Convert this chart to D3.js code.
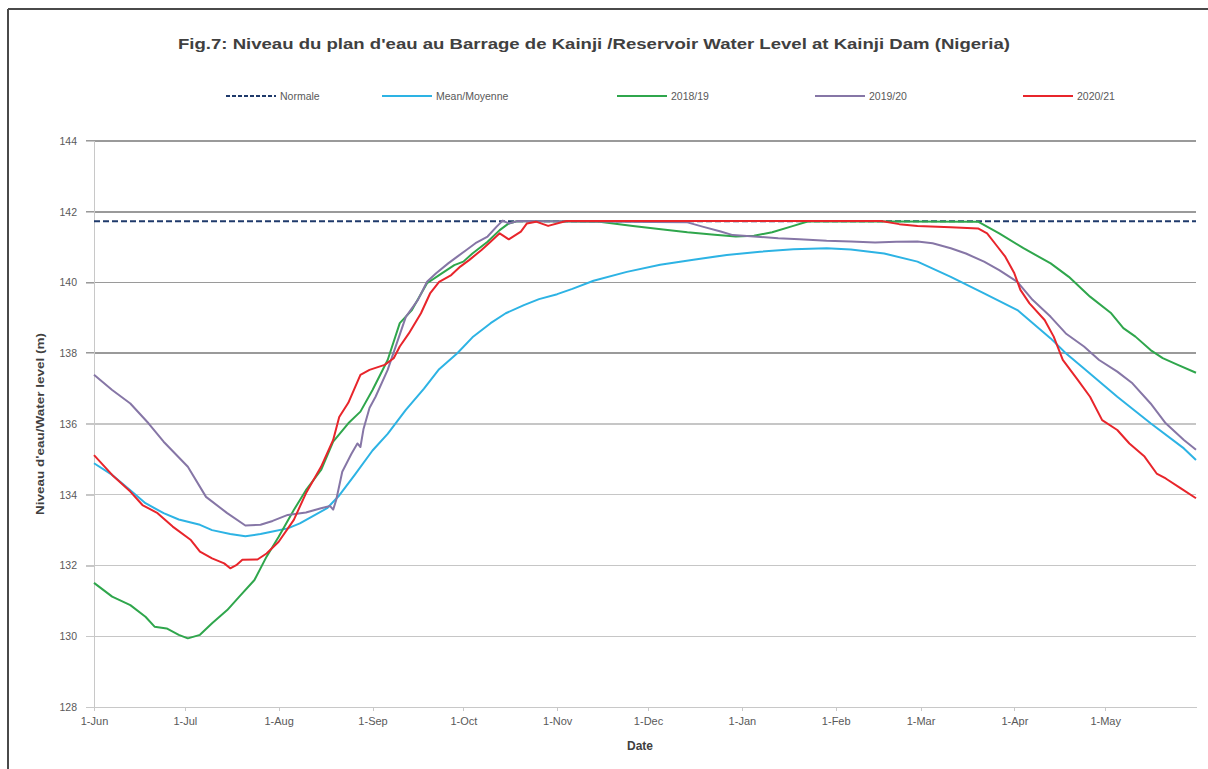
<!DOCTYPE html>
<html>
<head>
<meta charset="utf-8">
<title>Kainji reservoir level</title>
<style>

body {
    margin: 0;
    background: #fff;
}

text {
    font-family: "Liberation Sans", Arial, sans-serif;
    fill: #595959;
}

.title {
    font-size: 14.5px;
    font-weight: bold;
    fill: #404040;
}

.axislabel {
    font-size: 12px;
    font-weight: bold;
    fill: #404040;
}

.legend text, .yaxis text {
    font-size: 10.5px;
}

.xaxis text {
    font-size: 11px;
}

.xaxis path, .xaxis line, .yaxis line {
    stroke: #c8c8c8;
    shape-rendering: crispEdges;
}

.yaxis path {
    display: none;
}

.grid line {
    shape-rendering: crispEdges;
}

.series {
    fill: none;
    stroke-width: 2;
    stroke-linejoin: round;
}

</style>
</head>
<body>
<div id="chart"></div>
<script src="https://d3js.org/d3.v7.min.js"></script>
<script>
    var dimensions = { width: 1208, height: 769 };
    var margins = { top: 141, right: 12, bottom: 62, left: 94 };

    // season starts 1 June, values are [day since 1-Jun, level (m)]
    var seasonStart = "2020-06-01";
    var seasonEnd = "2021-05-31";
    var yTicks = [128, 130, 132, 134, 136, 138, 140, 142, 144];

    var normale = 141.73;

    var mean = [[0,134.89],[6,134.56],[12,134.13],[17,133.76],[23,133.48],[28,133.30],[35,133.15],[39,133.00],
        [45,132.89],[50,132.83],[55,132.89],[59,132.96],[64,133.05],[68,133.19],[72,133.38],[77,133.62],
        [81,133.98],[86,134.55],[92,135.25],[97,135.72],[103,136.40],[109,137.00],[114,137.55],[120,138.00],
        [125,138.45],[131,138.85],[136,139.13],[142,139.36],[147,139.53],[153,139.67],[158,139.82],[165,140.05],
        [176,140.30],[187,140.50],[198,140.64],[209,140.78],[220,140.87],[231,140.94],[242,140.97],[250,140.93],
        [261,140.82],[272,140.59],[283,140.16],[294,139.69],[305,139.22],[316,138.42],[321,138.00],[327,137.57],
        [338,136.77],[349,136.02],[360,135.31],[364,134.98]];

    var y2018 = [[0,131.51],[6,131.12],[12,130.88],[17,130.55],[20,130.27],[24,130.22],[28,130.04],[31,129.94],
        [35,130.04],[39,130.37],[44,130.74],[48,131.12],[53,131.59],[57,132.25],[61,132.81],[66,133.57],
        [70,134.13],[75,134.70],[79,135.50],[84,136.02],[88,136.35],[92,136.96],[97,137.81],[101,138.85],
        [105,139.22],[110,139.98],[114,140.21],[119,140.49],[122,140.59],[125,140.82],[130,141.15],[134,141.48],
        [137,141.67],[140,141.74],[167,141.72],[178,141.60],[188,141.50],[196,141.42],[205,141.35],[212,141.30],
        [218,141.32],[224,141.42],[231,141.60],[236,141.73],[292,141.72],[299,141.39],[307,140.97],[316,140.54],
        [322,140.16],[329,139.60],[336,139.13],[340,138.71],[344,138.47],[349,138.09],[353,137.86],[358,137.67],
        [364,137.45]];

    var y2019 = [[0,137.39],[6,136.96],[12,136.58],[18,136.02],[23,135.50],[31,134.79],[37,133.94],[44,133.48],
        [50,133.13],[55,133.15],[59,133.26],[64,133.43],[70,133.50],[75,133.62],[78,133.68],[79,133.58],
        [80,133.85],[82,134.65],[85,135.15],[87,135.45],[88,135.35],[89,135.85],[91,136.45],[93,136.77],
        [97,137.53],[100,138.28],[103,139.03],[107,139.51],[110,140.02],[113,140.26],[117,140.54],[120,140.73],
        [123,140.92],[126,141.11],[130,141.30],[133,141.58],[135,141.75],[137,141.67],[140,141.74],[196,141.70],
        [201,141.58],[207,141.44],[211,141.34],[218,141.30],[226,141.25],[233,141.22],[242,141.18],[250,141.16],
        [258,141.13],[265,141.15],[272,141.16],[277,141.11],[283,140.97],[288,140.82],[294,140.59],[299,140.35],
        [305,140.02],[310,139.51],[316,139.03],[321,138.56],[327,138.19],[332,137.81],[338,137.48],[343,137.15],
        [349,136.58],[354,136.02],[360,135.55],[364,135.27]];

    var y2020 = [[0,135.12],[6,134.56],[12,134.09],[16,133.71],[21,133.48],[26,133.10],[32,132.72],[35,132.39],
        [39,132.20],[43,132.06],[45,131.92],[47,132.01],[49,132.16],[54,132.17],[57,132.34],[61,132.67],
        [66,133.29],[70,134.04],[75,134.79],[79,135.55],[81,136.20],[84,136.60],[88,137.39],[91,137.53],
        [96,137.67],[99,137.86],[101,138.19],[104,138.56],[108,139.13],[111,139.69],[114,140.02],[118,140.21],
        [121,140.45],[124,140.64],[128,140.92],[131,141.15],[134,141.39],[137,141.22],[141,141.44],[143,141.67],
        [146,141.72],[150,141.60],[156,141.74],[260,141.74],[266,141.65],[272,141.60],[283,141.56],[292,141.53],
        [295,141.39],[298,141.06],[301,140.73],[304,140.26],[306,139.79],[309,139.41],[314,138.94],[317,138.47],
        [320,137.81],[325,137.24],[329,136.77],[333,136.11],[338,135.83],[342,135.45],[347,135.08],[351,134.60],
        [354,134.46],[359,134.18],[364,133.90]];

    var seriesNames = ["Mean/Moyenne", "2018/19", "2019/20", "2020/21"];
    var seriesData = [mean, y2018, y2019, y2020];
    var seriesColors = ["#2db3e4", "#2fa64c", "#8676a6", "#e8252b"];
    var normaleColor = "#1f3a6b";

    var legendX = [226, 382, 617, 815, 1023];

    var parseDay = d3.utcParse("%Y-%m-%d");
    var start = parseDay(seasonStart);

    var xscale = d3.scaleUtc()
        .domain([start, parseDay(seasonEnd)])
        .range([margins.left, dimensions.width - margins.right]);
    var yscale = d3.scaleLinear()
        .domain([128, 144])
        .range([dimensions.height - margins.bottom, margins.top]);

    var svg = d3.select("#chart")
        .append("svg")
        .attr("width", dimensions.width)
        .attr("height", dimensions.height);

    // frame (top + left edges only, as in the scan)
    svg.append("line")
        .attr("x1", 8).attr("y1", 9).attr("x2", dimensions.width).attr("y2", 9)
        .attr("stroke", "#4a4a4a").attr("stroke-width", 2);
    svg.append("line")
        .attr("x1", 8).attr("y1", 9).attr("x2", 8).attr("y2", dimensions.height)
        .attr("stroke", "#4a4a4a").attr("stroke-width", 2);

    svg.append("text")
        .attr("class", "title")
        .attr("x", 594)
        .attr("y", 49)
        .attr("text-anchor", "middle")
        .attr("textLength", 832)
        .attr("lengthAdjust", "spacingAndGlyphs")
        .text("Fig.7:  Niveau du plan d'eau au Barrage de Kainji /Reservoir Water Level at Kainji Dam (Nigeria)");

    // gridlines
    var grid = svg.append("g").attr("class", "grid");
    grid.selectAll("line")
        .data(yTicks.filter(function(v) { return v > 128; }))
        .enter().append("line")
        .attr("x1", margins.left - 8)
        .attr("x2", dimensions.width - margins.right)
        .attr("y1", function(d) { return yscale(d); })
        .attr("y2", function(d) { return yscale(d); })
        .attr("stroke", function(d) { return d >= 138 ? "#9a9a9a" : "#c6c6c6"; })
        .attr("stroke-width", function(d) { return d >= 138 ? 1.6 : 1.2; });

    var yaxis = d3.axisLeft(yscale)
        .tickValues(yTicks)
        .tickSize(8)
        .tickPadding(9)
        .tickFormat(d3.format("d"));
    svg.append("g")
        .attr("class", "yaxis")
        .attr("transform", "translate(" + margins.left + ",0)")
        .call(yaxis);

    svg.append("line")
        .attr("x1", margins.left).attr("x2", margins.left)
        .attr("y1", yscale(144)).attr("y2", yscale(128))
        .attr("stroke", "#c8c8c8")
        .attr("shape-rendering", "crispEdges");

    var xaxis = d3.axisBottom(xscale)
        .ticks(d3.utcMonth.every(1))
        .tickSize(4)
        .tickSizeOuter(0)
        .tickPadding(6)
        .tickFormat(d3.utcFormat("%-d-%b"));
    svg.append("g")
        .attr("class", "xaxis")
        .attr("transform", "translate(0," + yscale(128) + ")")
        .call(xaxis);

    svg.append("text")
        .attr("class", "axislabel")
        .attr("x", 640)
        .attr("y", 750)
        .attr("text-anchor", "middle")
        .text("Date");

    svg.append("text")
        .attr("class", "axislabel")
        .attr("transform", "translate(44," + yscale(136) + ") rotate(-90)")
        .attr("text-anchor", "middle")
        .attr("textLength", 182)
        .attr("lengthAdjust", "spacingAndGlyphs")
        .style("font-size", "11.5px")
        .text("Niveau d'eau/Water level (m)");

    // series
    var line = d3.line()
        .x(function(d) { return xscale(d3.utcDay.offset(start, d[0])); })
        .y(function(d) { return yscale(d[1]); });

    svg.append("line")
        .attr("x1", xscale.range()[0])
        .attr("x2", xscale.range()[1])
        .attr("y1", yscale(normale))
        .attr("y2", yscale(normale))
        .attr("stroke", normaleColor)
        .attr("stroke-width", 2)
        .attr("stroke-dasharray", "6,3");

    svg.append("g")
        .attr("class", "data")
        .selectAll("path")
        .data(seriesData)
        .enter().append("path")
        .attr("class", "series")
        .attr("stroke", function(d, i) { return seriesColors[i]; })
        .attr("d", line);

    // legend
    var legend = svg.append("g").attr("class", "legend");
    var items = [{ name: "Normale", color: normaleColor, dash: "4,2" }].concat(
        seriesNames.map(function(n, i) { return { name: n, color: seriesColors[i], dash: null }; }));
    var li = legend.selectAll("g")
        .data(items)
        .enter().append("g")
        .attr("transform", function(d, i) { return "translate(" + legendX[i] + ",96)"; });
    li.append("line")
        .attr("x1", 0).attr("x2", 50)
        .attr("stroke", function(d) { return d.color; })
        .attr("stroke-width", 2)
        .attr("stroke-dasharray", function(d) { return d.dash; });
    li.append("text")
        .attr("x", 54)
        .attr("y", 4)
        .text(function(d) { return d.name; });
</script>
</body>
</html>
